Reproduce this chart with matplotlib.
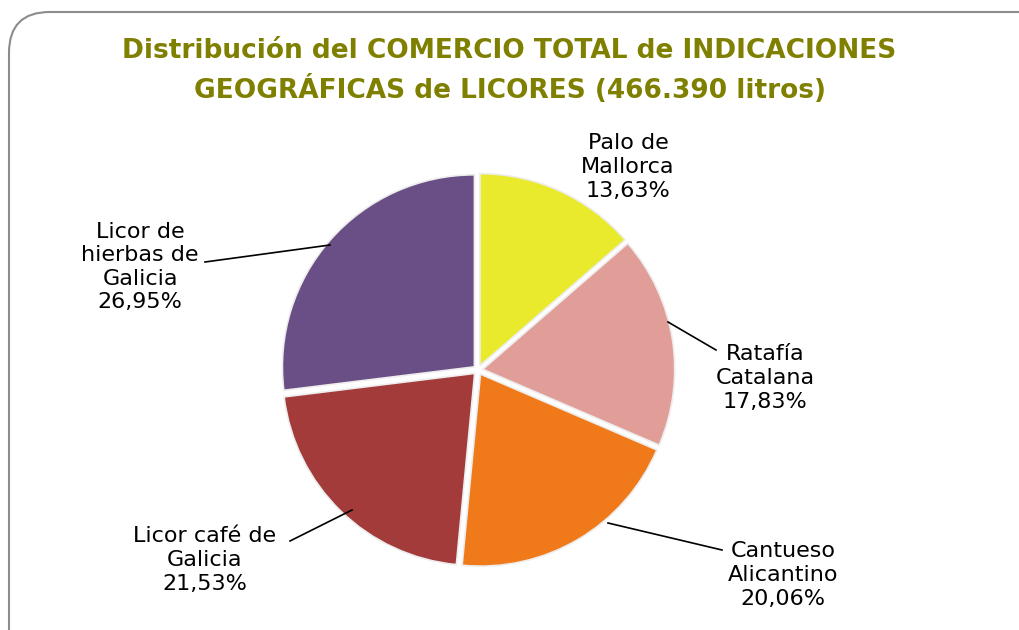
import matplotlib
matplotlib.use("Agg")
import matplotlib.pyplot as plt
from matplotlib.patches import FancyBboxPatch

# data
labels = ["Palo de\nMallorca", "Ratafía\nCatalana", "Cantueso\nAlicantino",
          "Licor café de\nGalicia", "Licor de\nhierbas de\nGalicia"]
shares = [13.63, 17.83, 20.06, 21.53, 26.95]
colors = ["#E9EA2C", "#E19E98", "#F07A19", "#A33B3A", "#6A4F86"]

W, H = 1019, 630
fig = plt.figure(figsize=(W / 100, H / 100), dpi=100)

# rounded frame, top-left corner visible, rest runs off the image
top = 1 - 12 / H
frame = FancyBboxPatch((9 / W, -0.3), 1.2, top + 0.3,
                       boxstyle="round,pad=0,rounding_size=0.04",
                       transform=fig.transFigure, facecolor="none",
                       edgecolor="#8C8C8C", linewidth=1.5, clip_on=False,
                       mutation_aspect=W / H)
fig.patches.append(frame)

fig.text(0.5, 0.94, "Distribución del COMERCIO TOTAL de INDICACIONES\n"
         "GEOGRÁFICAS de LICORES (466.390 litros)",
         ha="center", va="top", fontsize=19, fontweight="bold",
         color="#7F7F00", linespacing=1.5)

# pie axes: centre at (478, 370) px, radius ~192 px
cx, cy, r = 478, H - 370, 192
half = 250
ax = fig.add_axes([(cx - half) / W, (cy - half) / H, 2 * half / W, 2 * half / H])

wedges, _ = ax.pie(shares, colors=colors, startangle=90, counterclock=False,
                   explode=[0.025] * len(shares), radius=1.0,
                   wedgeprops=dict(edgecolor="#EDEDED", linewidth=1.2))
lim = half / r
ax.set_xlim(-lim, lim)
ax.set_ylim(-lim, lim)
ax.set_aspect("equal")
ax.axis("off")


def px(x, y):
    return ((x - 478) / r, (370 - y) / r)


label_pos = [(628, 167), (765, 378), (783, 575), (205, 560), (140, 267)]
line_start = [None, (668, 322), (608, 523), (352, 510), (330, 245)]
line_end = [None, (716, 350), (722, 550), (290, 541), (205, 262)]

for i, lab in enumerate(labels):
    txt = f"{lab}\n{shares[i]:.2f}%".replace(".", ",")
    tx, ty = px(*label_pos[i])
    ax.text(tx, ty, txt, ha="center", va="center", fontsize=16,
            color="black", linespacing=1.22)
    if line_start[i] is not None:
        x0, y0 = px(*line_start[i])
        x1, y1 = px(*line_end[i])
        ax.plot([x0, x1], [y0, y1], color="black", linewidth=1.2,
                clip_on=False)

fig.savefig("out.png", dpi=100)
